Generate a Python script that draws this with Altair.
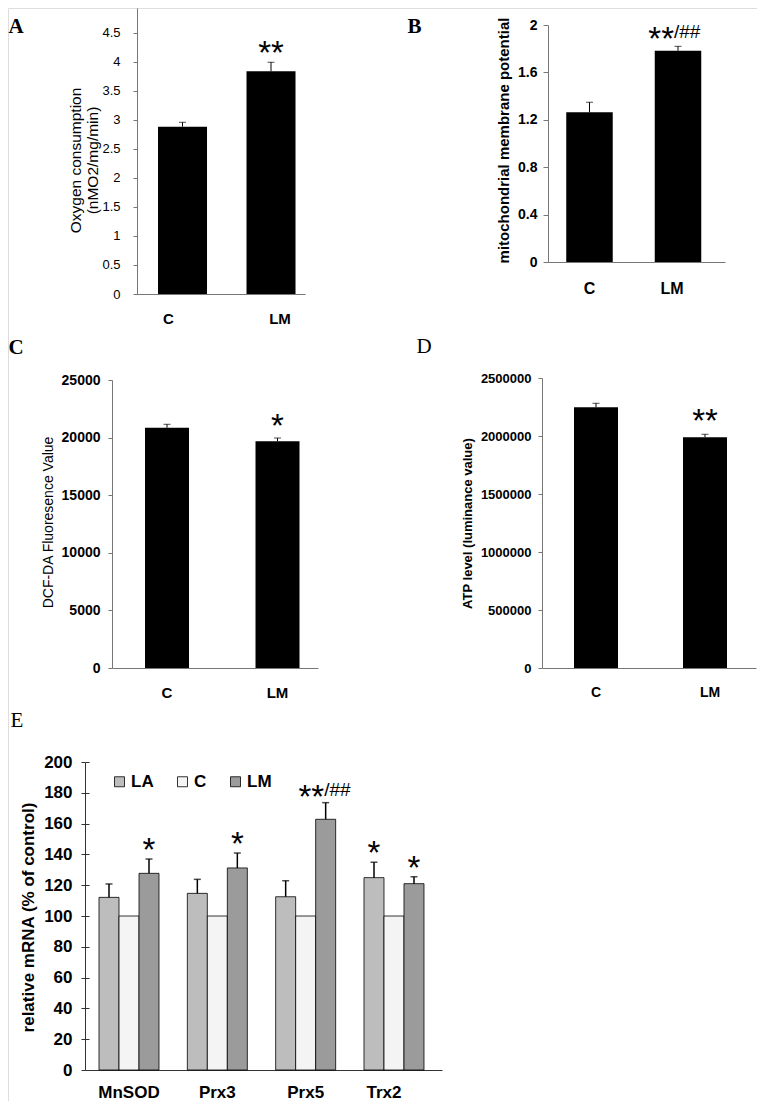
import altair as alt
import pandas as pd

SANS = "Liberation Sans"
SERIF = "Liberation Serif"

# ---------------- data ----------------
a_groups = ["C", "LM"]
a_values = [2.885, 3.84]
a_errors = [0.075, 0.155]
a_sig = ["", "**"]
a_yticks = [0, 0.5, 1, 1.5, 2, 2.5, 3, 3.5, 4, 4.5]

b_groups = ["C", "LM"]
b_values = [1.263, 1.783]
b_errors = [0.085, 0.037]
b_sig = ["", "**/##"]
b_yticks = [0, 0.4, 0.8, 1.2, 1.6, 2]

c_groups = ["C", "LM"]
c_values = [20860, 19680]
c_errors = [295, 285]
c_sig = ["", "*"]
c_yticks = [0, 5000, 10000, 15000, 20000, 25000]

d_groups = ["C", "LM"]
d_values = [2247000, 1989000]
d_errors = [35000, 26000]
d_sig = ["", "**"]
d_yticks = [0, 500000, 1000000, 1500000, 2000000, 2500000]

e_genes = ["MnSOD", "Prx3", "Prx5", "Trx2"]
e_series = ["LA", "C", "LM"]
e_la = [112.1, 114.7, 112.5, 124.9]
e_la_err = [8.7, 9.1, 10.4, 10.0]
e_c = [100, 100, 100, 100]
e_c_err = [0, 0, 0, 0]
e_lm = [127.7, 131.2, 162.8, 121.0]
e_lm_err = [9.3, 9.7, 10.8, 4.5]
e_la_sig = ["", "", "", "*"]
e_c_sig = ["", "", "", ""]
e_lm_sig = ["*", "*", "**/##", "*"]
e_yticks = [0, 20, 40, 60, 80, 100, 120, 140, 160, 180, 200]
e_colors = ["#bdbdbd", "#f4f4f4", "#9b9b9b"]

# full drawing area (page minus the 8px margin)
W, H = 749, 1093


def split_sig(s):
    if "/" in s:
        head, tail = s.split("/", 1)
        return head, "/" + tail
    return s, ""


def cond(test, v_true, v_false):
    return {"condition": {"test": test, "value": v_true}, "value": v_false}


def two_bar(groups, values, errors, sig, cfg):
    df = pd.DataFrame({
        "g": groups, "v": values, "e": errors,
        "star": [split_sig(s)[0] for s in sig],
        "hash": [split_sig(s)[1] for s in sig],
    })
    df["top"] = df["v"] + df["e"]
    axis_y = cfg["yrange"][0]
    xs = alt.Scale(domain=groups, range=cfg["xrange"], paddingInner=cfg["pi"],
                   paddingOuter=cfg["po"], align=cfg["align"], round=False)
    xa = alt.Axis(orient="bottom", offset=axis_y - H, ticks=False, tickSize=0, labelAngle=0,
                  labelFont=SANS, labelFontSize=cfg["xl_size"], labelFontWeight="bold",
                  labelColor="black", labelPadding=cfg["xl_pad"], labelBaseline="middle",
                  domainColor=cfg["dom"], labelOffset=cfg["xl_off"],
                  title=cfg["letter"], titleFont=SERIF, titleFontSize=21,
                  titleFontWeight=cfg["letter_weight"], titleColor="black",
                  titleAlign="left", titleBaseline="alphabetic", titleAngle=0,
                  titleX=cfg["letter_x"], titleY=cfg["letter_y"] - axis_y)
    ys = alt.Scale(domain=cfg["ydom"], range=cfg["yrange"], nice=False, zero=True)
    ya = alt.Axis(orient="left", offset=-cfg["xrange"][0],
                  title=cfg["ytitle"], values=cfg["yticks"], format=cfg["fmt"], grid=False,
                  domainColor=cfg["dom"], tickColor=cfg["dom"], tickSize=cfg["tick"],
                  labelFont=SANS, labelFontSize=cfg["yl_size"], labelFontWeight=cfg["yl_weight"],
                  labelColor="black", labelPadding=cfg["yl_pad"],
                  titleFont=SANS, titleFontSize=cfg["yt_size"], titleFontWeight=cfg["yt_weight"],
                  titleColor="black", titleAngle=270, titleAlign="center", titleBaseline="middle",
                  titleX=cfg["yt_x"], titleY=cfg["yt_y"], titleLineHeight=17)
    X = alt.X("g:N", sort=groups, scale=xs, axis=xa)

    def Y(f):
        return alt.Y(f, type="quantitative", scale=ys, axis=ya)

    base = alt.Chart(df)
    bars = base.mark_bar(color="black").encode(x=X, y=Y("v"))
    rule = base.mark_rule(color="black", strokeWidth=1).encode(x=X, y=Y("v"), y2="top:Q")
    cap = base.mark_tick(color="black", size=7, thickness=1).encode(x=X, y=Y("top"))
    layers = [bars, rule, cap]
    if cfg.get("hash"):
        st = base.transform_filter("datum.star != ''").mark_text(
            font=SANS, fontSize=33, color="black", baseline="alphabetic", align="right",
            dx=cfg["star_dx"], dy=cfg["star_dy"]).encode(x=X, y=Y("top"), text="star:N")
        hs = base.transform_filter("datum.hash != ''").mark_text(
            font=SANS, fontSize=19, color="black", baseline="alphabetic", align="left",
            dx=cfg["hash_dx"], dy=cfg["hash_dy"]).encode(x=X, y=Y("top"), text="hash:N")
        layers += [st, hs]
    else:
        st = base.transform_filter("datum.star != ''").mark_text(
            font=SANS, fontSize=33, color="black", baseline="alphabetic", align="center",
            dy=cfg["star_dy"]).encode(x=X, y=Y("top"), text="star:N")
        layers += [st]
    return alt.layer(*layers)


A = two_bar(a_groups, a_values, a_errors, a_sig, dict(
    xrange=[129, 297], pi=0.4463, po=0.1723, align=0.689, xl_size=15, xl_pad=24,
    xl_off=cond("datum.value === 'C'", -14, 9), dom="#777777",
    ydom=[0, 4.93], yrange=[286, 0], ytitle=["Oxygen consumption", "(nMO2/mg/min)"],
    yticks=a_yticks, fmt="~g", tick=4, yl_size=13, yl_weight="normal", yl_pad=13,
    yt_size=15.5, yt_weight="normal", yt_x=-62, yt_y=152,
    star_dy=2, letter="A", letter_weight="bold", letter_x=0, letter_y=24))

B = two_bar(b_groups, b_values, b_errors, b_sig, dict(
    xrange=[540, 717], pi=0.4746, po=0.2373, align=0.4345, xl_size=16, xl_pad=26,
    xl_off=cond("datum.value === 'LM'", -6, 0), dom="#777777",
    ydom=[0, 2], yrange=[254, 17], ytitle="mitochondrial  membrane potential",
    yticks=b_yticks, fmt="~g", tick=5, yl_size=14, yl_weight="bold", yl_pad=6,
    yt_size=15, yt_weight="bold", yt_x=-45, yt_y=132,
    hash=True, star_dx=-4, star_dy=4, hash_dx=-4, hash_dy=-8.3,
    letter="B", letter_weight="bold", letter_x=399, letter_y=24))

C = two_bar(c_groups, c_values, c_errors, c_sig, dict(
    xrange=[104, 310], pi=0.6018, po=0.2330, align=0.641, xl_size=15, xl_pad=24,
    xl_off=0, dom="#777777",
    ydom=[0, 25000], yrange=[660, 372], ytitle="DCF-DA Fluoresence Value",
    yticks=c_yticks, fmt="d", tick=4, yl_size=14, yl_weight="bold", yl_pad=8,
    yt_size=14, yt_weight="normal", yt_x=-64, yt_y=514,
    star_dy=-1.4, letter="C", letter_weight="bold", letter_x=0, letter_y=345))

D = two_bar(d_groups, d_values, d_errors, d_sig, dict(
    xrange=[534, 748], pi=0.5963, po=0.2798, align=0.5246, xl_size=14, xl_pad=24,
    xl_off=cond("datum.value === 'LM'", 5, 0), dom="#777777",
    ydom=[0, 2500000], yrange=[660, 370], ytitle="ATP level (luminance value)",
    yticks=d_yticks, fmt="d", tick=4, yl_size=13, yl_weight="bold", yl_pad=7,
    yt_size=13, yt_weight="bold", yt_x=-75, yt_y=515,
    star_dy=-1.9, letter="D", letter_weight="normal", letter_x=408, letter_y=344))

# ---------------- panel E ----------------
rows = []
for i, g in enumerate(e_genes):
    for s, vals, errs, sigs in [("LA", e_la, e_la_err, e_la_sig),
                                ("C", e_c, e_c_err, e_c_sig),
                                ("LM", e_lm, e_lm_err, e_lm_sig)]:
        st, hs = split_sig(sigs[i])
        rows.append({"gene": g, "series": s, "v": vals[i], "e": errs[i],
                     "top": vals[i] + errs[i], "star": st, "hash": hs})
edf = pd.DataFrame(rows)

E_AXIS_Y = 1062
ex_scale = alt.Scale(domain=e_genes, range=[77, 434], paddingInner=0.3208,
                     paddingOuter=0.1812, align=0.4375, round=False)
ex_axis = alt.Axis(orient="bottom", offset=E_AXIS_Y - H, ticks=False, tickSize=0,
                   labelAngle=0, labelFont=SANS, labelFontSize=17, labelFontWeight="bold",
                   labelColor="black", labelPadding=22, labelBaseline="middle",
                   domainColor="#333333",
                   labelOffset=cond("datum.value === 'Trx2'", -10, 0),
                   title="E", titleFont=SERIF, titleFontSize=21, titleFontWeight="normal",
                   titleColor="black", titleAlign="left", titleBaseline="alphabetic",
                   titleAngle=0, titleX=2, titleY=718 - E_AXIS_Y)
EX = alt.X("gene:N", sort=e_genes, scale=ex_scale, axis=ex_axis)
EXO = alt.XOffset("series:N", sort=e_series,
                  scale=alt.Scale(domain=e_series, paddingInner=0, paddingOuter=0))
ey_scale = alt.Scale(domain=[0, 200], range=[E_AXIS_Y, 754], nice=False, zero=True)
ey_axis = alt.Axis(orient="left", offset=-77,
                   title="relative mRNA (% of control)", values=e_yticks, format="d",
                   grid=False, domainColor="#333333", tickColor="#333333", tickSize=4,
                   labelFont=SANS, labelFontSize=17, labelFontWeight="bold",
                   labelColor="black", labelPadding=9,
                   titleFont=SANS, titleFontSize=17, titleFontWeight="bold",
                   titleColor="black", titleAngle=270, titleAlign="center",
                   titleBaseline="middle", titleX=-57, titleY=909)


def EY(f):
    return alt.Y(f, type="quantitative", scale=ey_scale, axis=ey_axis)


ecolor = alt.Color("series:N", sort=e_series,
                   scale=alt.Scale(domain=e_series, range=e_colors),
                   legend=alt.Legend(orient="none", legendX=103, legendY=765,
                                     direction="horizontal", title=None,
                                     symbolType="square", symbolSize=100,
                                     symbolStrokeColor="black", symbolStrokeWidth=0.8,
                                     labelFont=SANS, labelFontSize=17,
                                     labelFontWeight="bold", labelColor="black",
                                     labelOffset=3, columnPadding=20, padding=0))
ebase = alt.Chart(edf)
ebars = ebase.mark_bar(stroke="black", strokeWidth=0.8).encode(
    x=EX, xOffset=EXO, y=EY("v"), color=ecolor)
eerr = ebase.transform_filter("datum.e > 0")
erule = eerr.mark_rule(color="black", strokeWidth=1.5).encode(
    x=EX, xOffset=EXO, y=EY("v"), y2="top:Q")
ecap = eerr.mark_tick(color="black", size=7, thickness=1.5).encode(
    x=EX, xOffset=EXO, y=EY("top"))
estar1 = ebase.transform_filter("datum.star != '' && datum.hash == ''").mark_text(
    font=SANS, fontSize=33, color="black", baseline="alphabetic", align="center",
    dy=2).encode(x=EX, xOffset=EXO, y=EY("top"), text="star:N")
estar2 = ebase.transform_filter("datum.hash != ''").mark_text(
    font=SANS, fontSize=33, color="black", baseline="alphabetic", align="right",
    dx=-1.5, dy=5.6).encode(x=EX, xOffset=EXO, y=EY("top"), text="star:N")
ehash = ebase.transform_filter("datum.hash != ''").mark_text(
    font=SANS, fontSize=19, color="black", baseline="alphabetic", align="left",
    dx=-1.5, dy=-6.3).encode(x=EX, xOffset=EXO, y=EY("top"), text="hash:N")
E = alt.layer(ebars, erule, ecap, estar1, estar2, ehash)

# inner half of the crossing ticks on the E value axis
E_inner = ebase.mark_tick(opacity=0).encode(
    y=alt.Y("v:Q", scale=alt.Scale(domain=[0, 200], range=[E_AXIS_Y, 754], nice=False,
                                   zero=True),
            axis=alt.Axis(orient="left", offset=-81, values=e_yticks, title=None,
                          labels=False, domain=False, grid=False, tickSize=4,
                          tickColor="#333333")))

chart = alt.layer(A, B, C, D, E, E_inner).resolve_scale(
    x="independent", y="independent"
).properties(width=W, height=H, padding=0).configure_view(stroke=None).configure(font=SANS)

chart.save("out.html", embed_options={"renderer": "svg", "actions": False})
